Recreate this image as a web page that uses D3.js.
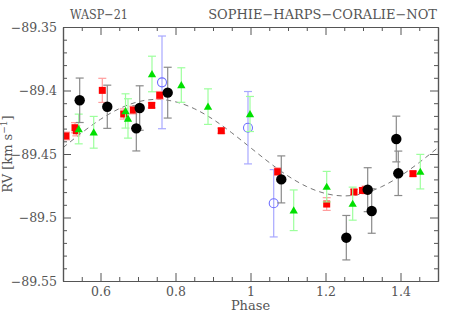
<!DOCTYPE html>
<html><head><meta charset="utf-8">
<script src="https://cdn.jsdelivr.net/npm/d3@7"></script>
<style>body{margin:0;background:#fff}svg{display:block}text{font-family:"DejaVu Serif","Liberation Serif",serif;fill:#555}</style>
</head><body><svg id="c" width="463" height="324"></svg>
<script>
// ---- data ----
const redPhase = [0.508,0.532,0.5355,0.6048,0.6619,0.6875,0.7365,0.7579,0.9221,1.0725,1.2032,1.276,1.2987,1.3067,1.4333];
const redRV    = [-89.4358,-89.4293,-89.4317,-89.3999,-89.4185,-89.4154,-89.4117,-89.4038,-89.4317,-89.4639,-89.4894,-89.4799,-89.4787,-89.4783,-89.4655];
const redErr   = [0.003,0.004,0.004,0.0095,0.004,0.003,0.002,0.003,0.002,0.003,0.005,0.002,0.002,0.003,0.002];

const blackPhase = [0.5445,0.6181,0.6955,0.7045,0.7792,1.0821,1.2555,1.3125,1.3232,1.3888,1.3941];
const blackRV    = [-89.4077,-89.4128,-89.4298,-89.4138,-89.4017,-89.47,-89.5159,-89.4781,-89.4949,-89.4382,-89.4652];
const blackErr   = [0.0175,0.017,0.0178,0.0175,0.02,0.0185,0.0175,0.0173,0.0175,0.018,0.0175];

const greenPhase = [0.5419,0.5819,0.6667,0.6733,0.7373,0.8155,0.8867,0.9987,1.1152,1.2032,1.2725,1.4528];
const greenRV    = [-89.4303,-89.4329,-89.4161,-89.422,-89.387,-89.3957,-89.4127,-89.4185,-89.4943,-89.4757,-89.4891,-89.4639];
const greenErr   = [0.0117,0.0125,0.0135,0.0155,0.014,0.0136,0.014,0.0138,0.016,0.012,0.013,0.0136];

const bluePhase = [0.764,0.9933,1.0619];
const blueRV    = [-89.3936,-89.4293,-89.4888];
const blueErr   = [0.0365,0.0285,0.0265];

const modelPhase = [0.5,0.55,0.6,0.65,0.7,0.75,0.8,0.85,0.9,0.95,1.0,1.05,1.1,1.15,1.2,1.25,1.3,1.35,1.4,1.45,1.5];
const modelRV    = [-89.445,-89.4333,-89.4227,-89.4143,-89.4089,-89.407,-89.4089,-89.4143,-89.4227,-89.4333,-89.445,-89.4567,-89.4673,-89.4757,-89.4811,-89.483,-89.4811,-89.4757,-89.4673,-89.4567,-89.445];

const xTicks = [0.6,0.8,1.0,1.2,1.4];
const xTickLabels = ["0.6","0.8","1","1.2","1.4"];
const yTicks = [-89.55,-89.5,-89.45,-89.4,-89.35];
const yTickLabels = ["\u221289.55","\u221289.5","\u221289.45","\u221289.4","\u221289.35"];
const titleLeft = "WASP\u221221";
const titleRight = "SOPHIE\u2212HARPS\u2212CORALIE\u2212NOT";

// ---- drawing ----
const svg = d3.select("#c");
const L=63,R=438,T=27,B=281;
const x = d3.scaleLinear().domain([0.5,1.5]).range([L,R]);
const y = d3.scaleLinear().domain([-89.55,-89.35]).range([B,T]);
const xMinor = d3.range(0.55,1.5,0.05).map(v=>+v.toFixed(2)).filter(v=>!xTicks.some(t=>Math.abs(t-v)<1e-6));
const yMinor = d3.range(-89.54,-89.35,0.01).map(v=>+v.toFixed(2)).filter(v=>!yTicks.some(t=>Math.abs(t-v)<1e-6));

svg.append("clipPath").attr("id","clp").append("rect").attr("x",L).attr("y",T).attr("width",R-L).attr("height",B-T);
const plot = svg.append("g").attr("clip-path","url(#clp)");

// model
plot.append("path")
  .datum(modelPhase.map((p,i)=>[p,modelRV[i]]))
  .attr("d", d3.line().x(d=>x(d[0])).y(d=>y(d[1])).curve(d3.curveNatural))
  .attr("fill","none").attr("stroke","#777").attr("stroke-width",1).attr("stroke-dasharray","5,4");

function errbars(ph,rv,er,col,cap){
  const g = plot.append("g").attr("stroke",col).attr("stroke-width",1.2);
  ph.forEach((p,i)=>{
    const cx=x(p), y1=y(rv[i]-er[i]), y2=y(rv[i]+er[i]);
    g.append("line").attr("x1",cx).attr("x2",cx).attr("y1",y1).attr("y2",y2);
    g.append("line").attr("x1",cx-cap).attr("x2",cx+cap).attr("y1",y1).attr("y2",y1);
    g.append("line").attr("x1",cx-cap).attr("x2",cx+cap).attr("y1",y2).attr("y2",y2);
  });
}
// blue
errbars(bluePhase,blueRV,blueErr,"#a8a8ff",4);
plot.append("g").selectAll("circle").data(bluePhase).join("circle")
  .attr("cx",(d)=>x(d)).attr("cy",(d,i)=>y(blueRV[i])).attr("r",4.5)
  .attr("fill","none").attr("stroke","#6f6fff").attr("stroke-width",1.1);
// red
errbars(redPhase,redRV,redErr,"#ff9d9d",4);
plot.append("g").selectAll("rect").data(redPhase).join("rect")
  .attr("x",d=>x(d)-3.5).attr("y",(d,i)=>y(redRV[i])-3.5).attr("width",7).attr("height",7)
  .attr("fill","#ff0000");
// green
errbars(greenPhase,greenRV,greenErr,"#9dff9d",4);
const tri = d3.symbol().type(d3.symbolTriangle).size(30);
plot.append("g").selectAll("path").data(greenPhase).join("path")
  .attr("d",tri).attr("transform",(d,i)=>`translate(${x(d)},${y(greenRV[i])+0.8})`)
  .attr("fill","#00e000");
// black
errbars(blackPhase,blackRV,blackErr,"#8a8a8a",4);
plot.append("g").selectAll("circle").data(blackPhase).join("circle")
  .attr("cx",d=>x(d)).attr("cy",(d,i)=>y(blackRV[i])).attr("r",5.2).attr("fill","#000");

// axes
const axCol="#555";
function styleAx(g){g.selectAll("path,line").attr("stroke",axCol);g.select(".domain").attr("stroke-width",1.2);g.selectAll("text").attr("fill","#555").style("font-family","'DejaVu Serif',serif").style("font-size","12.5px");}
const fmtX = d=>xTickLabels[xTicks.findIndex(t=>Math.abs(t-d)<1e-6)];
const fmtY = d=>yTickLabels[yTicks.findIndex(t=>Math.abs(t-d)<1e-6)];
svg.append("g").attr("transform",`translate(0,${B})`).call(d3.axisBottom(x).tickValues(xTicks).tickFormat(fmtX).tickSizeInner(-8).tickSizeOuter(0).tickPadding(6)).call(styleAx);
svg.append("g").attr("transform",`translate(0,${B})`).call(d3.axisBottom(x).tickValues(xMinor).tickFormat("").tickSizeInner(-4).tickSizeOuter(0)).call(styleAx);
svg.append("g").attr("transform",`translate(0,${T})`).call(d3.axisTop(x).tickValues(xTicks).tickFormat("").tickSizeInner(-8).tickSizeOuter(0)).call(styleAx);
svg.append("g").attr("transform",`translate(0,${T})`).call(d3.axisTop(x).tickValues(xMinor).tickFormat("").tickSizeInner(-4).tickSizeOuter(0)).call(styleAx);
svg.append("g").attr("transform",`translate(${L},0)`).call(d3.axisLeft(y).tickValues(yTicks).tickFormat(fmtY).tickSizeInner(-8).tickSizeOuter(0).tickPadding(6)).call(styleAx);
svg.append("g").attr("transform",`translate(${L},0)`).call(d3.axisLeft(y).tickValues(yMinor).tickFormat("").tickSizeInner(-4).tickSizeOuter(0)).call(styleAx);
svg.append("g").attr("transform",`translate(${R},0)`).call(d3.axisRight(y).tickValues(yTicks).tickFormat("").tickSizeInner(-8).tickSizeOuter(0)).call(styleAx);
svg.append("g").attr("transform",`translate(${R},0)`).call(d3.axisRight(y).tickValues(yMinor).tickFormat("").tickSizeInner(-4).tickSizeOuter(0)).call(styleAx);

// titles
svg.append("text").attr("x",70).attr("y",19).attr("font-size",13).attr("textLength",58).attr("lengthAdjust","spacingAndGlyphs").text(titleLeft);
svg.append("text").attr("x",437).attr("y",19).attr("font-size",13).attr("text-anchor","end").text(titleRight);
svg.append("text").attr("x",(L+R)/2).attr("y",310).attr("font-size",13).attr("text-anchor","middle").text("Phase");
const yl = svg.append("text").attr("transform",`translate(12,${(T+B)/2}) rotate(-90)`).attr("font-size",13).attr("text-anchor","middle");
yl.append("tspan").text("RV [km s");
yl.append("tspan").attr("dy",-5).attr("font-size",9).text("\u22121");
yl.append("tspan").attr("dy",5).text("]");
</script></body></html>
